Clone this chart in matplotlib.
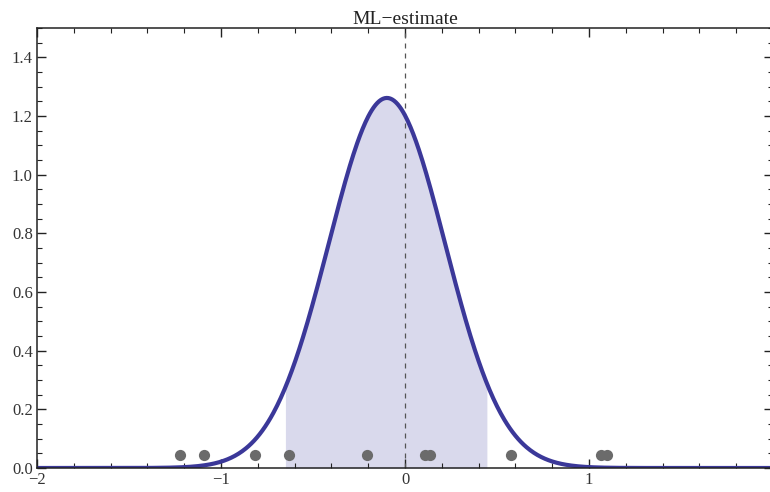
import numpy as np
import matplotlib
matplotlib.use("Agg")
import matplotlib.pyplot as plt
from matplotlib.ticker import MultipleLocator

samples = [-1.223, -1.092, -0.815, -0.630, -0.207, 0.109, 0.136, 0.576, 1.065, 1.098]
sample_y = 0.045

# Known noise sigma = 1, so the likelihood of the mean has width 1/sqrt(n)
noise_sigma = 1.0
shade_lo, shade_hi = -0.652, 0.449

x_range = (-2.0, 2.0)
y_range = (0.0, 1.5)
x_major = [-2, -1, 0, 1, 2]
y_major = [0.0, 0.2, 0.4, 0.6, 0.8, 1.0, 1.2, 1.4]
title = "ML\u2212estimate"

plt.rcParams['font.family'] = ['Liberation Serif', 'DejaVu Serif']

mu = np.mean(samples)
sd = noise_sigma / np.sqrt(len(samples))
xs = np.linspace(x_range[0], x_range[1], 801)
pdf = np.exp(-0.5 * ((xs - mu) / sd) ** 2) / (sd * np.sqrt(2 * np.pi))

fig = plt.figure(figsize=(7.7, 4.92), dpi=100)
ax = fig.add_axes([37 / 770, 24 / 492, 736 / 770, 440 / 492])

# shaded interval under the curve
mask = (xs >= shade_lo) & (xs <= shade_hi)
ax.fill_between(xs[mask], 0, pdf[mask], color="#d9d9ec", lw=0)

ax.axvline(0, color="#555555", lw=0.9, ls=(0, (4, 4)))
ax.plot(xs, pdf, color="#3b3899", lw=3.0, solid_capstyle="round")
ax.scatter(samples, [sample_y] * len(samples), s=65, color="#6b6b6b", zorder=3, lw=0)

ax.set_xlim(*x_range)
ax.set_ylim(*y_range)
ax.set_xticks(x_major)
ax.set_xticklabels([str(v).replace("-", "\u2212") for v in x_major])
ax.set_yticks(y_major)
ax.set_yticklabels([f"{v:.1f}" for v in y_major])
ax.xaxis.set_minor_locator(MultipleLocator(0.2))
ax.yaxis.set_minor_locator(MultipleLocator(0.05))
ax.tick_params(which="both", direction="in", top=True, right=True, color="#222222",
               labelsize=12, labelcolor="#333333", pad=3)
ax.tick_params(which="major", length=6.5, width=1.0)
ax.tick_params(which="minor", length=3.5, width=0.8)
for sp in ax.spines.values():
    sp.set_linewidth(1.1)
    sp.set_color("#222222")

ax.set_title(title, fontsize=14, color="#222222", pad=2)

fig.savefig("out.png", dpi=100)
